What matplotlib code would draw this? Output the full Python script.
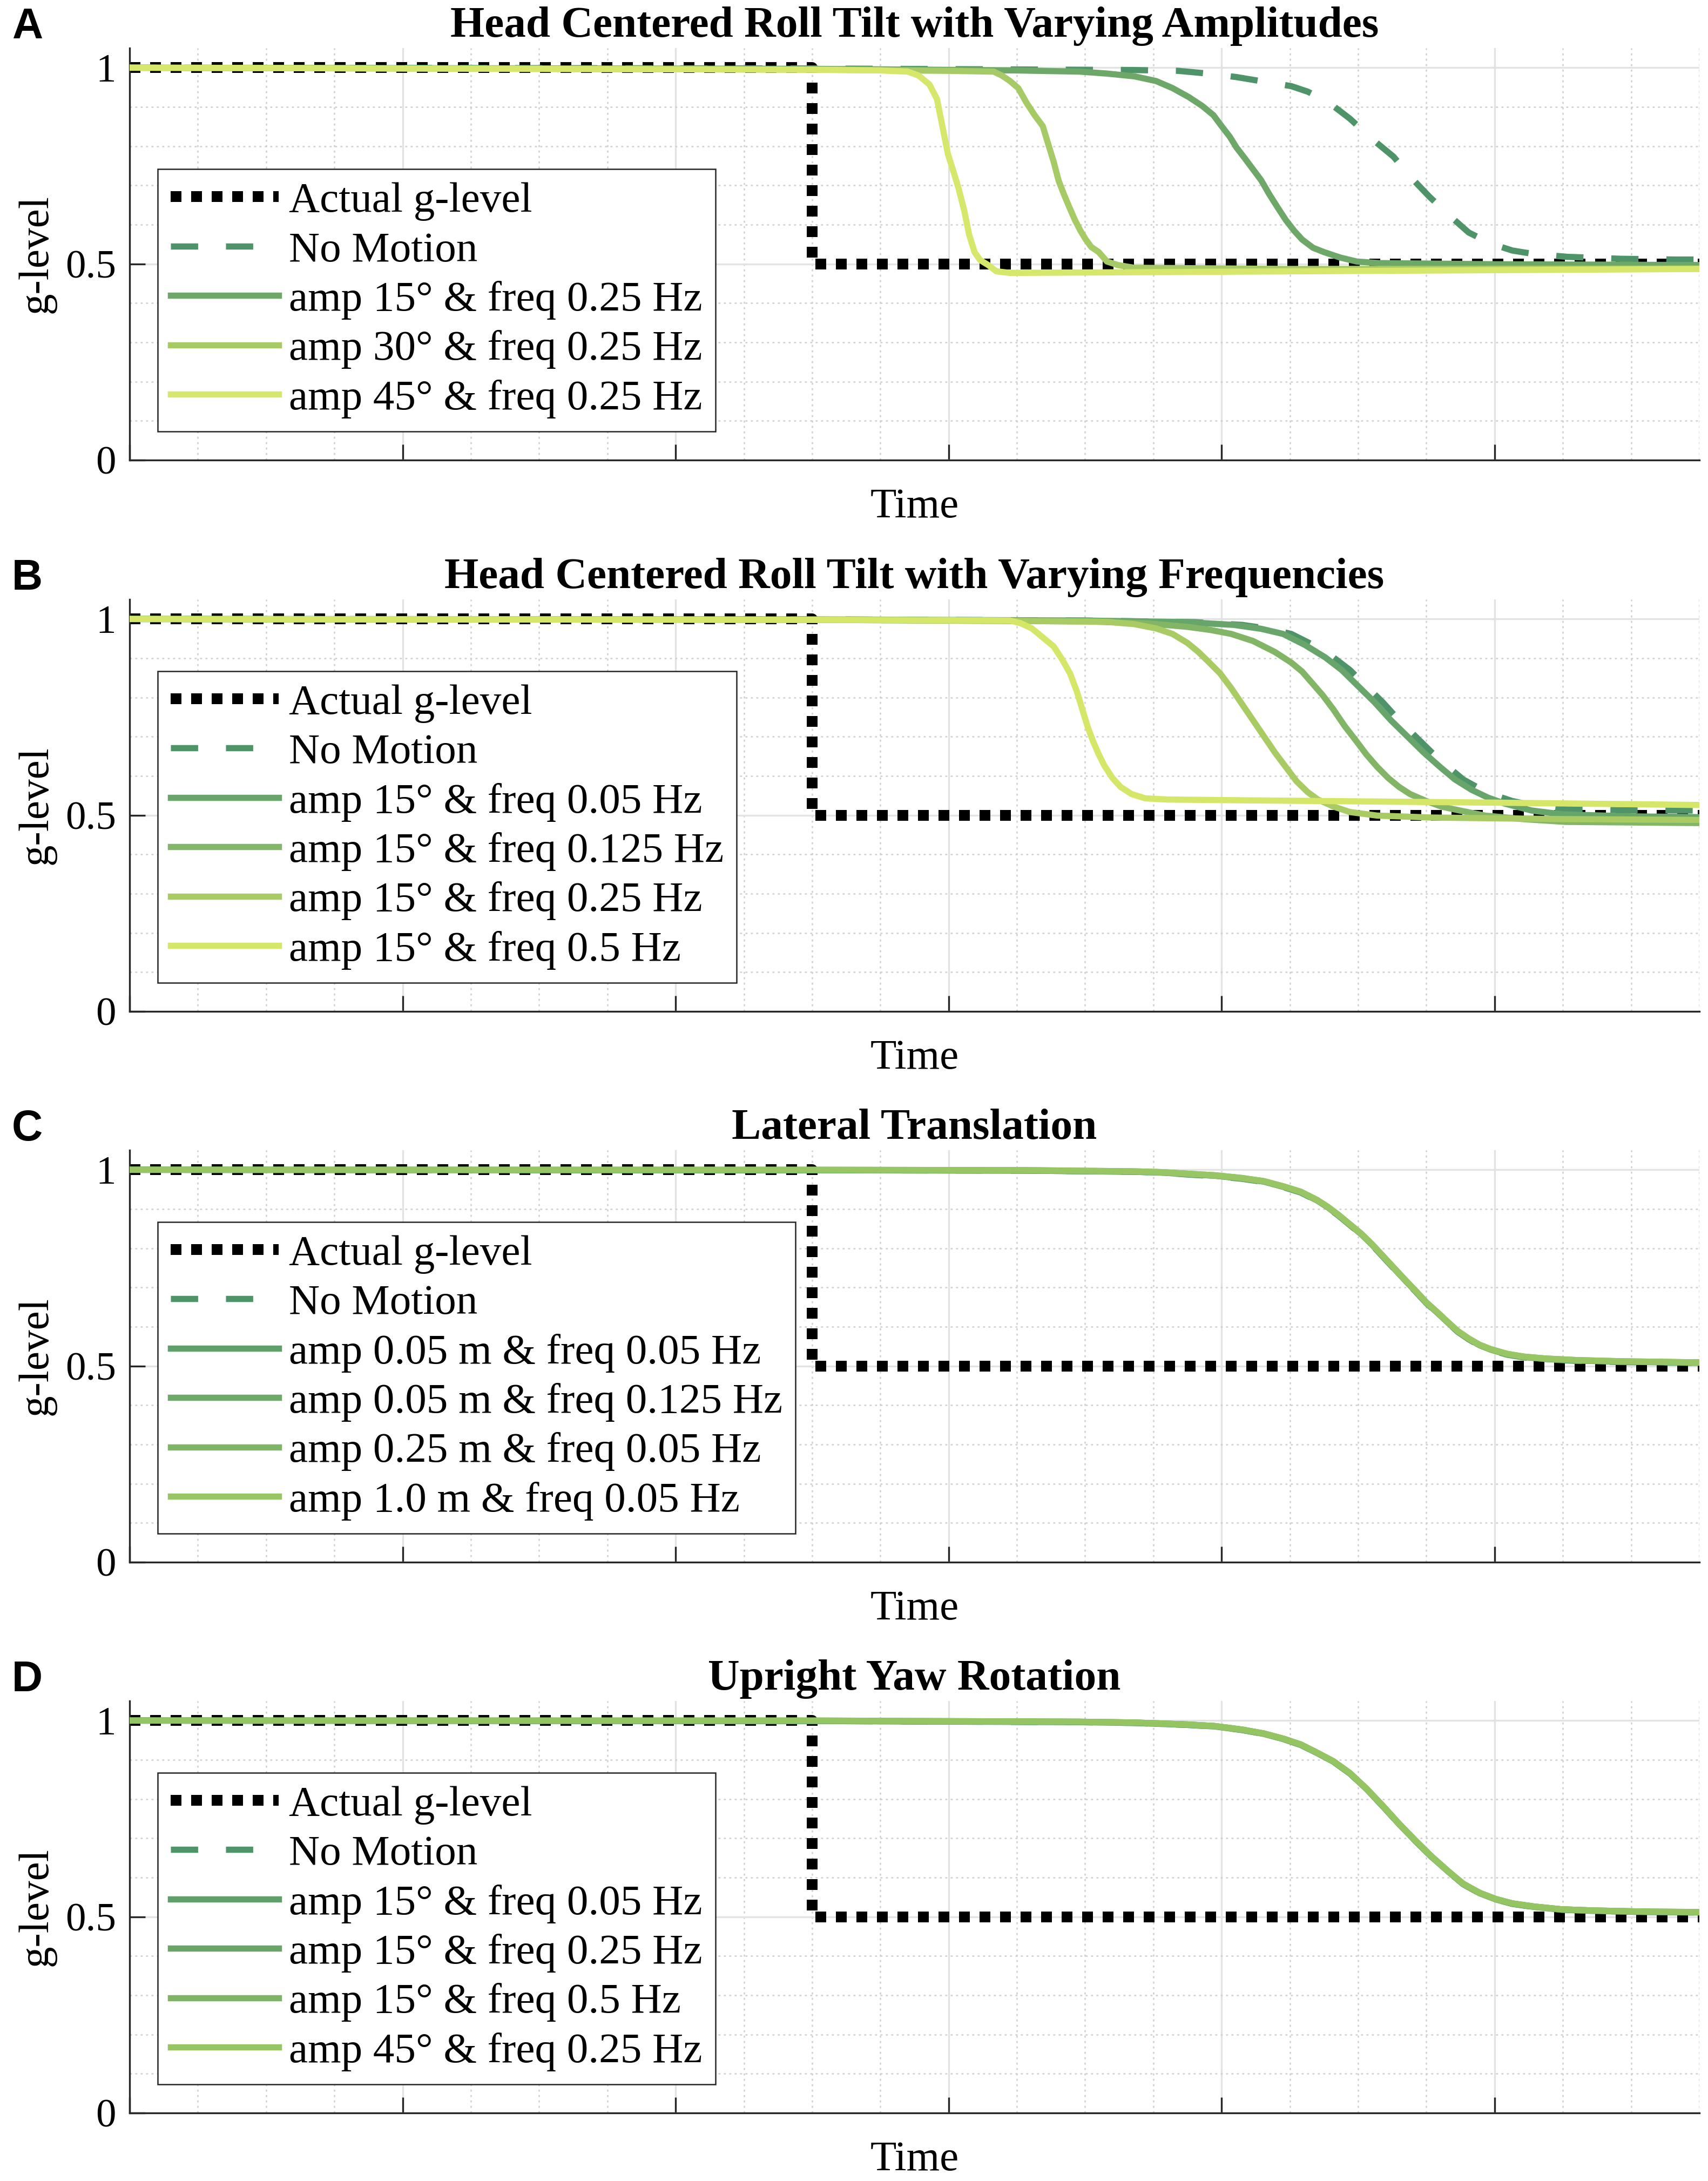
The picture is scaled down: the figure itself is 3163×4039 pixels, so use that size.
import matplotlib
matplotlib.use("Agg")
import matplotlib.pyplot as plt
from matplotlib.ticker import MultipleLocator

plt.rcParams['font.family'] = ['Liberation Serif', 'DejaVu Serif']
plt.rcParams['mathtext.fontset'] = 'stix'

# ---------------- data ----------------
titles = ["Head Centered Roll Tilt with Varying Amplitudes",
          "Head Centered Roll Tilt with Varying Frequencies",
          "Lateral Translation",
          "Upright Yaw Rotation"]
panel_letters = ["A", "B", "C", "D"]

t_actual = [0, 50, 50, 115]
g_actual = [1.0, 1.0, 0.5, 0.5]

# Panel A
A_nomo_t = [0, 50, 73.6, 76.8, 79.0, 81.1, 83.0, 85.1, 86.3, 87.3, 88.2, 89.4, 91.0, 92.6, 93.8, 95.2, 96.6, 98.1, 99.7, 101.3, 102.9, 105.3, 109.2, 113.2, 115]
A_nomo_g = [1.0, 0.998, 0.994, 0.992, 0.985, 0.976, 0.965, 0.953, 0.939, 0.922, 0.902, 0.870, 0.819, 0.773, 0.723, 0.672, 0.626, 0.580, 0.552, 0.534, 0.525, 0.518, 0.513, 0.511, 0.511]
A_amp15_t = [0, 50, 65, 69.6, 71.6, 73.6, 75.2, 76.4, 77.6, 78.6, 79.4, 80.0, 80.6, 81.1, 81.7, 82.3, 82.9, 83.5, 84.1, 84.7, 85.3, 85.9, 86.7, 87.5, 88.7, 89.9, 91.5, 100, 115]
A_amp15_g = [1.0, 0.997, 0.993, 0.99, 0.985, 0.978, 0.966, 0.948, 0.925, 0.902, 0.879, 0.851, 0.824, 0.796, 0.769, 0.741, 0.713, 0.677, 0.644, 0.612, 0.585, 0.562, 0.541, 0.530, 0.516, 0.506, 0.502, 0.499, 0.497]
A_amp30_t = [0, 50, 60, 63.3, 63.9, 64.5, 65.1, 65.7, 66.3, 66.9, 67.3, 67.7, 68.05, 68.45, 68.85, 69.25, 69.65, 70.05, 70.45, 71.0, 71.6, 72.4, 73.6, 85, 115]
A_amp30_g = [1.0, 0.995, 0.992, 0.99, 0.98, 0.966, 0.948, 0.911, 0.879, 0.851, 0.805, 0.760, 0.713, 0.677, 0.644, 0.612, 0.585, 0.562, 0.543, 0.530, 0.506, 0.497, 0.490, 0.487, 0.488]
A_amp45_t = [0, 50, 55, 57.0, 57.8, 58.6, 59.15, 59.55, 59.95, 60.35, 60.75, 61.15, 61.5, 61.9, 62.3, 62.9, 63.5, 64.5, 80, 100, 115]
A_amp45_g = [1.0, 0.995, 0.993, 0.99, 0.98, 0.957, 0.92, 0.85, 0.78, 0.736, 0.69, 0.635, 0.575, 0.53, 0.51, 0.497, 0.481, 0.477, 0.480, 0.484, 0.487]

# Panel B
B_nomo_t = [0, 50, 70, 78.0, 81.5, 83.5, 85.1, 86.7, 88.2, 89.4, 90.6, 91.8, 93.0, 94.2, 95.4, 96.6, 97.7, 98.9, 100.1, 101.3, 103.3, 105.2, 109.2, 115]
B_nomo_g = [1.0, 0.999, 0.996, 0.992, 0.985, 0.975, 0.962, 0.934, 0.902, 0.870, 0.829, 0.788, 0.742, 0.701, 0.660, 0.623, 0.591, 0.568, 0.550, 0.536, 0.522, 0.515, 0.513, 0.512]
B_f005_t = [0, 50, 70, 77.4, 80.9, 82.9, 84.5, 86.1, 87.6, 88.8, 90.0, 91.2, 92.4, 93.6, 94.8, 96.0, 97.1, 98.3, 99.5, 100.7, 102.7, 105, 110, 115]
B_f005_g = [1.0, 0.999, 0.996, 0.992, 0.985, 0.975, 0.962, 0.934, 0.902, 0.870, 0.829, 0.788, 0.742, 0.701, 0.660, 0.623, 0.591, 0.565, 0.545, 0.530, 0.512, 0.502, 0.497, 0.495]
B_f0125_t = [0, 50, 70, 74.5, 77.5, 79.2, 80.7, 82.3, 83.9, 85.1, 85.9, 86.6, 87.4, 88.2, 89.0, 89.8, 90.6, 91.4, 92.2, 93.0, 93.8, 95.0, 96.1, 97.3, 99.3, 102.1, 105.2, 115]
B_f0125_g = [1.0, 0.998, 0.994, 0.989, 0.980, 0.972, 0.962, 0.944, 0.916, 0.889, 0.866, 0.838, 0.806, 0.769, 0.728, 0.692, 0.655, 0.623, 0.595, 0.572, 0.554, 0.536, 0.522, 0.513, 0.499, 0.490, 0.483, 0.480]
B_f025_t = [0, 50, 65, 71.5, 73.6, 75.2, 76.4, 77.5, 78.3, 79.1, 79.9, 80.7, 81.5, 82.3, 83.1, 83.9, 84.7, 85.5, 86.3, 87.05, 88.2, 89.4, 91.4, 95.4, 105, 115]
B_f025_g = [1.0, 0.998, 0.995, 0.993, 0.987, 0.976, 0.962, 0.939, 0.916, 0.889, 0.861, 0.824, 0.783, 0.742, 0.701, 0.660, 0.623, 0.586, 0.559, 0.540, 0.522, 0.508, 0.499, 0.494, 0.490, 0.488]
B_f05_t = [0, 50, 60, 64.5, 65.3, 66.1, 66.9, 67.7, 68.3, 68.9, 69.4, 69.8, 70.2, 70.6, 71.0, 71.4, 72.0, 72.6, 73.4, 74.4, 76.0, 81.5, 100, 115]
B_f05_g = [1.0, 0.998, 0.997, 0.996, 0.989, 0.976, 0.953, 0.930, 0.898, 0.861, 0.815, 0.769, 0.724, 0.687, 0.655, 0.627, 0.595, 0.572, 0.554, 0.543, 0.540, 0.538, 0.532, 0.526]

# Panel C (shared time base)
C_t = [0, 50, 65.7, 73.6, 75.6, 77.5, 79.5, 81.5, 83.1, 84.6, 85.8, 87.0, 87.8, 88.6, 89.4, 90.2, 91.0, 91.8, 92.6, 93.4, 94.2, 95.0, 95.8, 96.6, 97.3, 98.1, 98.9, 99.7, 100.9, 102.1, 103.7, 106.0, 109.2, 115]
C_nomo_g = [1.0, 0.999, 0.998, 0.995, 0.993, 0.988, 0.984, 0.977, 0.969, 0.955, 0.942, 0.921, 0.903, 0.882, 0.859, 0.836, 0.809, 0.779, 0.749, 0.719, 0.690, 0.660, 0.635, 0.609, 0.587, 0.568, 0.552, 0.541, 0.529, 0.522, 0.517, 0.513, 0.510, 0.508]
C_s1_g = [1.0, 0.999, 0.998, 0.995, 0.993, 0.989, 0.985, 0.978, 0.970, 0.956, 0.943, 0.922, 0.904, 0.883, 0.860, 0.837, 0.810, 0.780, 0.750, 0.720, 0.691, 0.661, 0.636, 0.610, 0.588, 0.569, 0.553, 0.542, 0.530, 0.523, 0.518, 0.514, 0.511, 0.508]
C_s2_g = [1.0, 0.999, 0.998, 0.995, 0.993, 0.989, 0.985, 0.978, 0.970, 0.956, 0.943, 0.922, 0.904, 0.883, 0.860, 0.837, 0.810, 0.780, 0.750, 0.720, 0.691, 0.661, 0.636, 0.610, 0.588, 0.569, 0.553, 0.542, 0.530, 0.523, 0.518, 0.514, 0.511, 0.509]
C_s3_g = [1.0, 1.0, 0.999, 0.996, 0.994, 0.990, 0.986, 0.979, 0.971, 0.957, 0.944, 0.923, 0.905, 0.884, 0.861, 0.838, 0.811, 0.781, 0.751, 0.721, 0.692, 0.662, 0.637, 0.611, 0.589, 0.570, 0.554, 0.543, 0.531, 0.524, 0.519, 0.515, 0.512, 0.509]
C_s4_g = [1.0, 1.0, 0.999, 0.996, 0.994, 0.990, 0.986, 0.979, 0.971, 0.957, 0.944, 0.923, 0.905, 0.884, 0.861, 0.838, 0.811, 0.781, 0.751, 0.721, 0.692, 0.662, 0.637, 0.611, 0.589, 0.570, 0.554, 0.543, 0.531, 0.524, 0.519, 0.515, 0.512, 0.509]

# Panel D (shared time base)
D_t = [0, 50, 69.6, 73.6, 77.5, 79.5, 81.5, 83.1, 84.6, 85.8, 87.0, 88.2, 89.4, 90.6, 91.8, 93.0, 94.2, 95.4, 96.6, 97.7, 98.9, 100.1, 101.3, 102.9, 104.9, 107.2, 111.2, 115]
D_nomo_g = [1.0, 0.999, 0.996, 0.994, 0.989, 0.985, 0.976, 0.966, 0.952, 0.938, 0.917, 0.895, 0.865, 0.826, 0.782, 0.736, 0.693, 0.652, 0.615, 0.583, 0.560, 0.544, 0.533, 0.525, 0.518, 0.515, 0.512, 0.511]
D_s1_g = [1.0, 0.999, 0.996, 0.994, 0.989, 0.985, 0.976, 0.966, 0.952, 0.938, 0.917, 0.895, 0.865, 0.826, 0.782, 0.736, 0.693, 0.652, 0.615, 0.583, 0.560, 0.544, 0.533, 0.525, 0.518, 0.515, 0.512, 0.511]
D_s2_g = [1.0, 0.999, 0.997, 0.995, 0.990, 0.986, 0.977, 0.967, 0.953, 0.939, 0.918, 0.896, 0.866, 0.827, 0.783, 0.737, 0.694, 0.653, 0.616, 0.584, 0.561, 0.545, 0.534, 0.526, 0.519, 0.516, 0.513, 0.512]
D_s3_g = [1.0, 1.0, 0.997, 0.995, 0.990, 0.986, 0.977, 0.967, 0.953, 0.939, 0.918, 0.896, 0.866, 0.827, 0.783, 0.737, 0.694, 0.653, 0.616, 0.584, 0.561, 0.545, 0.534, 0.526, 0.519, 0.516, 0.513, 0.512]
D_s4_g = [1.0, 1.0, 0.997, 0.995, 0.990, 0.986, 0.977, 0.967, 0.953, 0.939, 0.918, 0.896, 0.866, 0.827, 0.783, 0.737, 0.694, 0.653, 0.616, 0.584, 0.561, 0.545, 0.534, 0.526, 0.519, 0.516, 0.513, 0.512]

A_labels = ["amp 15\u00b0 & freq 0.25 Hz", "amp 30\u00b0 & freq 0.25 Hz", "amp 45\u00b0 & freq 0.25 Hz"]
B_labels = ["amp 15\u00b0 & freq 0.05 Hz", "amp 15\u00b0 & freq 0.125 Hz", "amp 15\u00b0 & freq 0.25 Hz", "amp 15\u00b0 & freq 0.5 Hz"]
C_labels = ["amp 0.05 m & freq 0.05 Hz", "amp 0.05 m & freq 0.125 Hz", "amp 0.25 m & freq 0.05 Hz", "amp 1.0 m & freq 0.05 Hz"]
D_labels = ["amp 15\u00b0 & freq 0.05 Hz", "amp 15\u00b0 & freq 0.25 Hz", "amp 15\u00b0 & freq 0.5 Hz", "amp 45\u00b0 & freq 0.25 Hz"]

nomo_color = '#4f9468'
A_colors = ['#6ea868', '#a5ca66', '#d6e76b']
B_colors = ['#68a56a', '#82b565', '#a8cc63', '#d6e668']
C_colors = ['#5f9f6a', '#6eaa67', '#7db665', '#98c664']
D_colors = ['#5f9f6a', '#69a567', '#7db565', '#95c463']

panels = [
    dict(nomo=(A_nomo_t, A_nomo_g),
         series=[(A_amp15_t, A_amp15_g), (A_amp30_t, A_amp30_g), (A_amp45_t, A_amp45_g)],
         labels=A_labels, colors=A_colors),
    dict(nomo=(B_nomo_t, B_nomo_g),
         series=[(B_f005_t, B_f005_g), (B_f0125_t, B_f0125_g), (B_f025_t, B_f025_g), (B_f05_t, B_f05_g)],
         labels=B_labels, colors=B_colors),
    dict(nomo=(C_t, C_nomo_g),
         series=[(C_t, C_s1_g), (C_t, C_s2_g), (C_t, C_s3_g), (C_t, C_s4_g)],
         labels=C_labels, colors=C_colors),
    dict(nomo=(D_t, D_nomo_g),
         series=[(D_t, D_s1_g), (D_t, D_s2_g), (D_t, D_s3_g), (D_t, D_s4_g)],
         labels=D_labels, colors=D_colors),
]

# ---------------- figure ----------------
W, H = 3163, 4039
fig = plt.figure(figsize=(W / 300, H / 300), dpi=300)

ax_left = 240 / W
ax_w = 2907 / W
ax_h = 763 / H
zero_px = [852, 1873, 2893, 3913]

for i, p in enumerate(panels):
    ax = fig.add_axes([ax_left, 1 - zero_px[i] / H, ax_w, ax_h])
    ax.plot(t_actual, g_actual, color='black', lw=4.8, linestyle=(0, (1.0, 0.9)),
            label='Actual g-level', zorder=2)
    ax.plot(p['nomo'][0], p['nomo'][1], color=nomo_color, lw=2.75,
            linestyle=(0, (4.4, 4.5)), label='No Motion', zorder=3)
    for (tt, gg), lab, col in zip(p['series'], p['labels'], p['colors']):
        ax.plot(tt, gg, color=col, lw=2.75, label=lab, zorder=4,
                solid_joinstyle='round')

    ax.set_xlim(0, 115)
    ax.set_ylim(0, 1.05)
    ax.xaxis.set_major_locator(MultipleLocator(20))
    ax.xaxis.set_minor_locator(MultipleLocator(5))
    ax.set_yticks([0, 0.5, 1])
    ax.yaxis.set_minor_locator(MultipleLocator(0.1))
    ax.set_yticklabels(['0', '0.5', '1'])
    ax.set_xticklabels([])
    ax.tick_params(axis='both', which='major', direction='in', length=7, width=0.8,
                   color='#262626', labelsize=18, pad=6)
    ax.tick_params(axis='both', which='minor', length=0)
    ax.tick_params(axis='x', which='major', top=False)
    ax.tick_params(axis='y', which='major', right=False)

    ax.grid(True, which='major', color='#e2e2e2', lw=0.8, linestyle='-')
    ax.grid(True, which='minor', color='#cfcfcf', lw=0.6, linestyle=(0, (1.5, 2.5)))
    ax.set_axisbelow(True)

    for s in ['top', 'right']:
        ax.spines[s].set_visible(False)
    for s in ['left', 'bottom']:
        ax.spines[s].set_color('#262626')
        ax.spines[s].set_linewidth(0.8)

    ax.set_title(titles[i], fontsize=19.5, fontweight='bold', pad=5)
    ax.set_xlabel('Time', fontsize=19)
    ax.xaxis.set_label_coords(0.5, -0.068)
    ax.set_ylabel('g-level', fontsize=19)
    ax.yaxis.set_label_coords(-0.047, 0.5)

    ax.text(-0.075, 1.0236, panel_letters[i], transform=ax.transAxes,
            fontfamily='Liberation Sans', fontweight='bold', fontsize=19,
            ha='left', va='baseline')

    leg = ax.legend(loc='lower left', bbox_to_anchor=(0.018, 0.07), borderaxespad=0,
                    fontsize=19, handlelength=2.52, handletextpad=0.25,
                    labelspacing=0.24, borderpad=0.3, fancybox=False,
                    framealpha=1, edgecolor='#262626')
    leg.get_frame().set_linewidth(0.6)

fig.savefig('out.png', dpi=300)
